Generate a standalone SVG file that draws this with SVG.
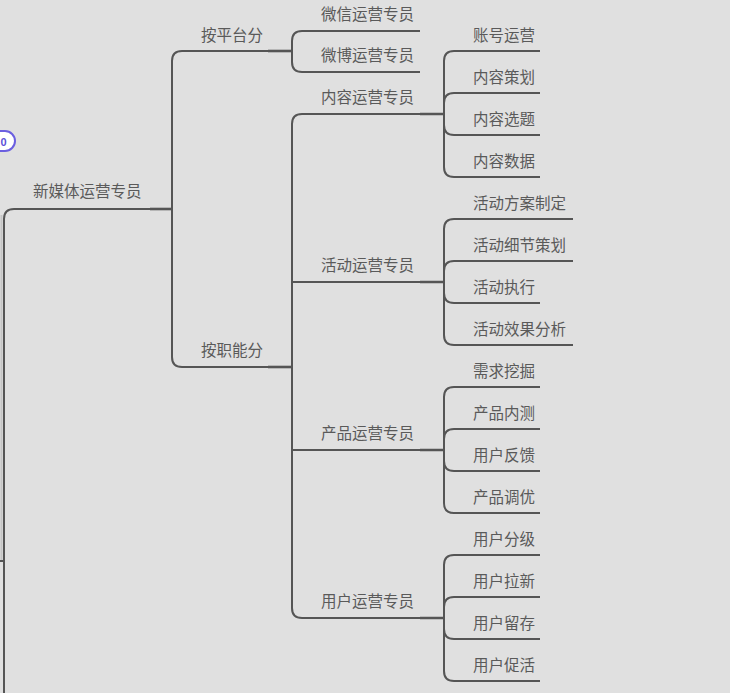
<svg xmlns="http://www.w3.org/2000/svg" width="730" height="693" viewBox="0 0 730 693">
<style>
text{font-family:"Noto Sans CJK SC","Noto Sans",sans-serif;font-size:15.5px;fill:#5a5a5a}
.ln{fill:none;stroke:#555;stroke-width:2}
.stub{fill:none;stroke:#555;stroke-width:2.6}
</style>
<rect width="730" height="693" fill="#e0e0e0"/>
<g id="badge">
<rect x="-22" y="131" width="37" height="20" rx="10" fill="#fff" stroke="#6b5fe0" stroke-width="2"/>
<text x="3.5" y="145.5" text-anchor="middle" style="font-size:11px;font-weight:bold;fill:#5b4fd8;font-family:'Liberation Sans',sans-serif">0</text>
</g>
<g id="connectors">
<path class="ln" d="M1.5,215 V561" style="stroke:#c4c4c4"/>
<path class="ln" d="M0,561 H4"/>
<path class="ln" d="M4,693 V219 Q4,209 14,209"/>
<path class="ln" d="M182,51 Q172,51 172,61 V357 Q172,367 182,367"/>
<path class="stub" d="M150,209 H172"/>
<path class="ln" d="M302,31 Q292,31 292,41 V62 Q292,72 302,72"/>
<path class="stub" d="M268,51 H292"/>
<path class="ln" d="M302,114 Q292,114 292,124 V608 Q292,618 302,618"/>
<path class="stub" d="M268,367 H292"/>
<path class="stub" d="M420,114 H444 M420,282 H444 M420,450 H444 M420,618 H444"/>
<path class="ln" d="M454,51 Q444,51 444,61 V167 Q444,177 454,177 M454,93 Q444,93 444,103 M444,125 Q444,135 454,135"/>
<path class="ln" d="M454,219 Q444,219 444,229 V335 Q444,345 454,345 M454,261 Q444,261 444,271 M444,293 Q444,303 454,303"/>
<path class="ln" d="M454,387 Q444,387 444,397 V503 Q444,513 454,513 M454,429 Q444,429 444,439 M444,461 Q444,471 454,471"/>
<path class="ln" d="M454,555 Q444,555 444,565 V671 Q444,681 454,681 M454,597 Q444,597 444,607 M444,629 Q444,639 454,639"/>
</g>
<g id="root"><text x="33" y="197">新媒体运营专员</text><path class="ln" d="M14,209 H150"/></g>
<g id="n-platform"><text x="201" y="41">按平台分</text><path class="ln" d="M182,51 H268"/></g>
<g id="n-function"><text x="201" y="356">按职能分</text><path class="ln" d="M182,367 H268"/></g>
<g id="n-wechat"><text x="321" y="20">微信运营专员</text><path class="ln" d="M302,31 H420"/></g>
<g id="n-weibo"><text x="321" y="61">微博运营专员</text><path class="ln" d="M302,72 H420"/></g>
<g id="n-content"><text x="321" y="103">内容运营专员</text><path class="ln" d="M302,114 H420"/></g>
<g id="n-activity"><text x="321" y="271">活动运营专员</text><path class="ln" d="M292,282 H420"/></g>
<g id="n-product"><text x="321" y="439">产品运营专员</text><path class="ln" d="M292,450 H420"/></g>
<g id="n-user"><text x="321" y="607">用户运营专员</text><path class="ln" d="M302,618 H420"/></g>
<g id="c1"><text x="473" y="41">账号运营</text><path class="ln" d="M454,51 H540"/></g>
<g id="c2"><text x="473" y="83">内容策划</text><path class="ln" d="M454,93 H540"/></g>
<g id="c3"><text x="473" y="125">内容选题</text><path class="ln" d="M454,135 H540"/></g>
<g id="c4"><text x="473" y="167">内容数据</text><path class="ln" d="M454,177 H540"/></g>
<g id="a1"><text x="473" y="209">活动方案制定</text><path class="ln" d="M454,219 H573"/></g>
<g id="a2"><text x="473" y="251">活动细节策划</text><path class="ln" d="M454,261 H573"/></g>
<g id="a3"><text x="473" y="293">活动执行</text><path class="ln" d="M454,303 H540"/></g>
<g id="a4"><text x="473" y="335">活动效果分析</text><path class="ln" d="M454,345 H573"/></g>
<g id="p1"><text x="473" y="377">需求挖掘</text><path class="ln" d="M454,387 H540"/></g>
<g id="p2"><text x="473" y="419">产品内测</text><path class="ln" d="M454,429 H540"/></g>
<g id="p3"><text x="473" y="461">用户反馈</text><path class="ln" d="M454,471 H540"/></g>
<g id="p4"><text x="473" y="503">产品调优</text><path class="ln" d="M454,513 H540"/></g>
<g id="u1"><text x="473" y="545">用户分级</text><path class="ln" d="M454,555 H540"/></g>
<g id="u2"><text x="473" y="587">用户拉新</text><path class="ln" d="M454,597 H540"/></g>
<g id="u3"><text x="473" y="629">用户留存</text><path class="ln" d="M454,639 H540"/></g>
<g id="u4"><text x="473" y="671">用户促活</text><path class="ln" d="M454,681 H540"/></g>
</svg>
